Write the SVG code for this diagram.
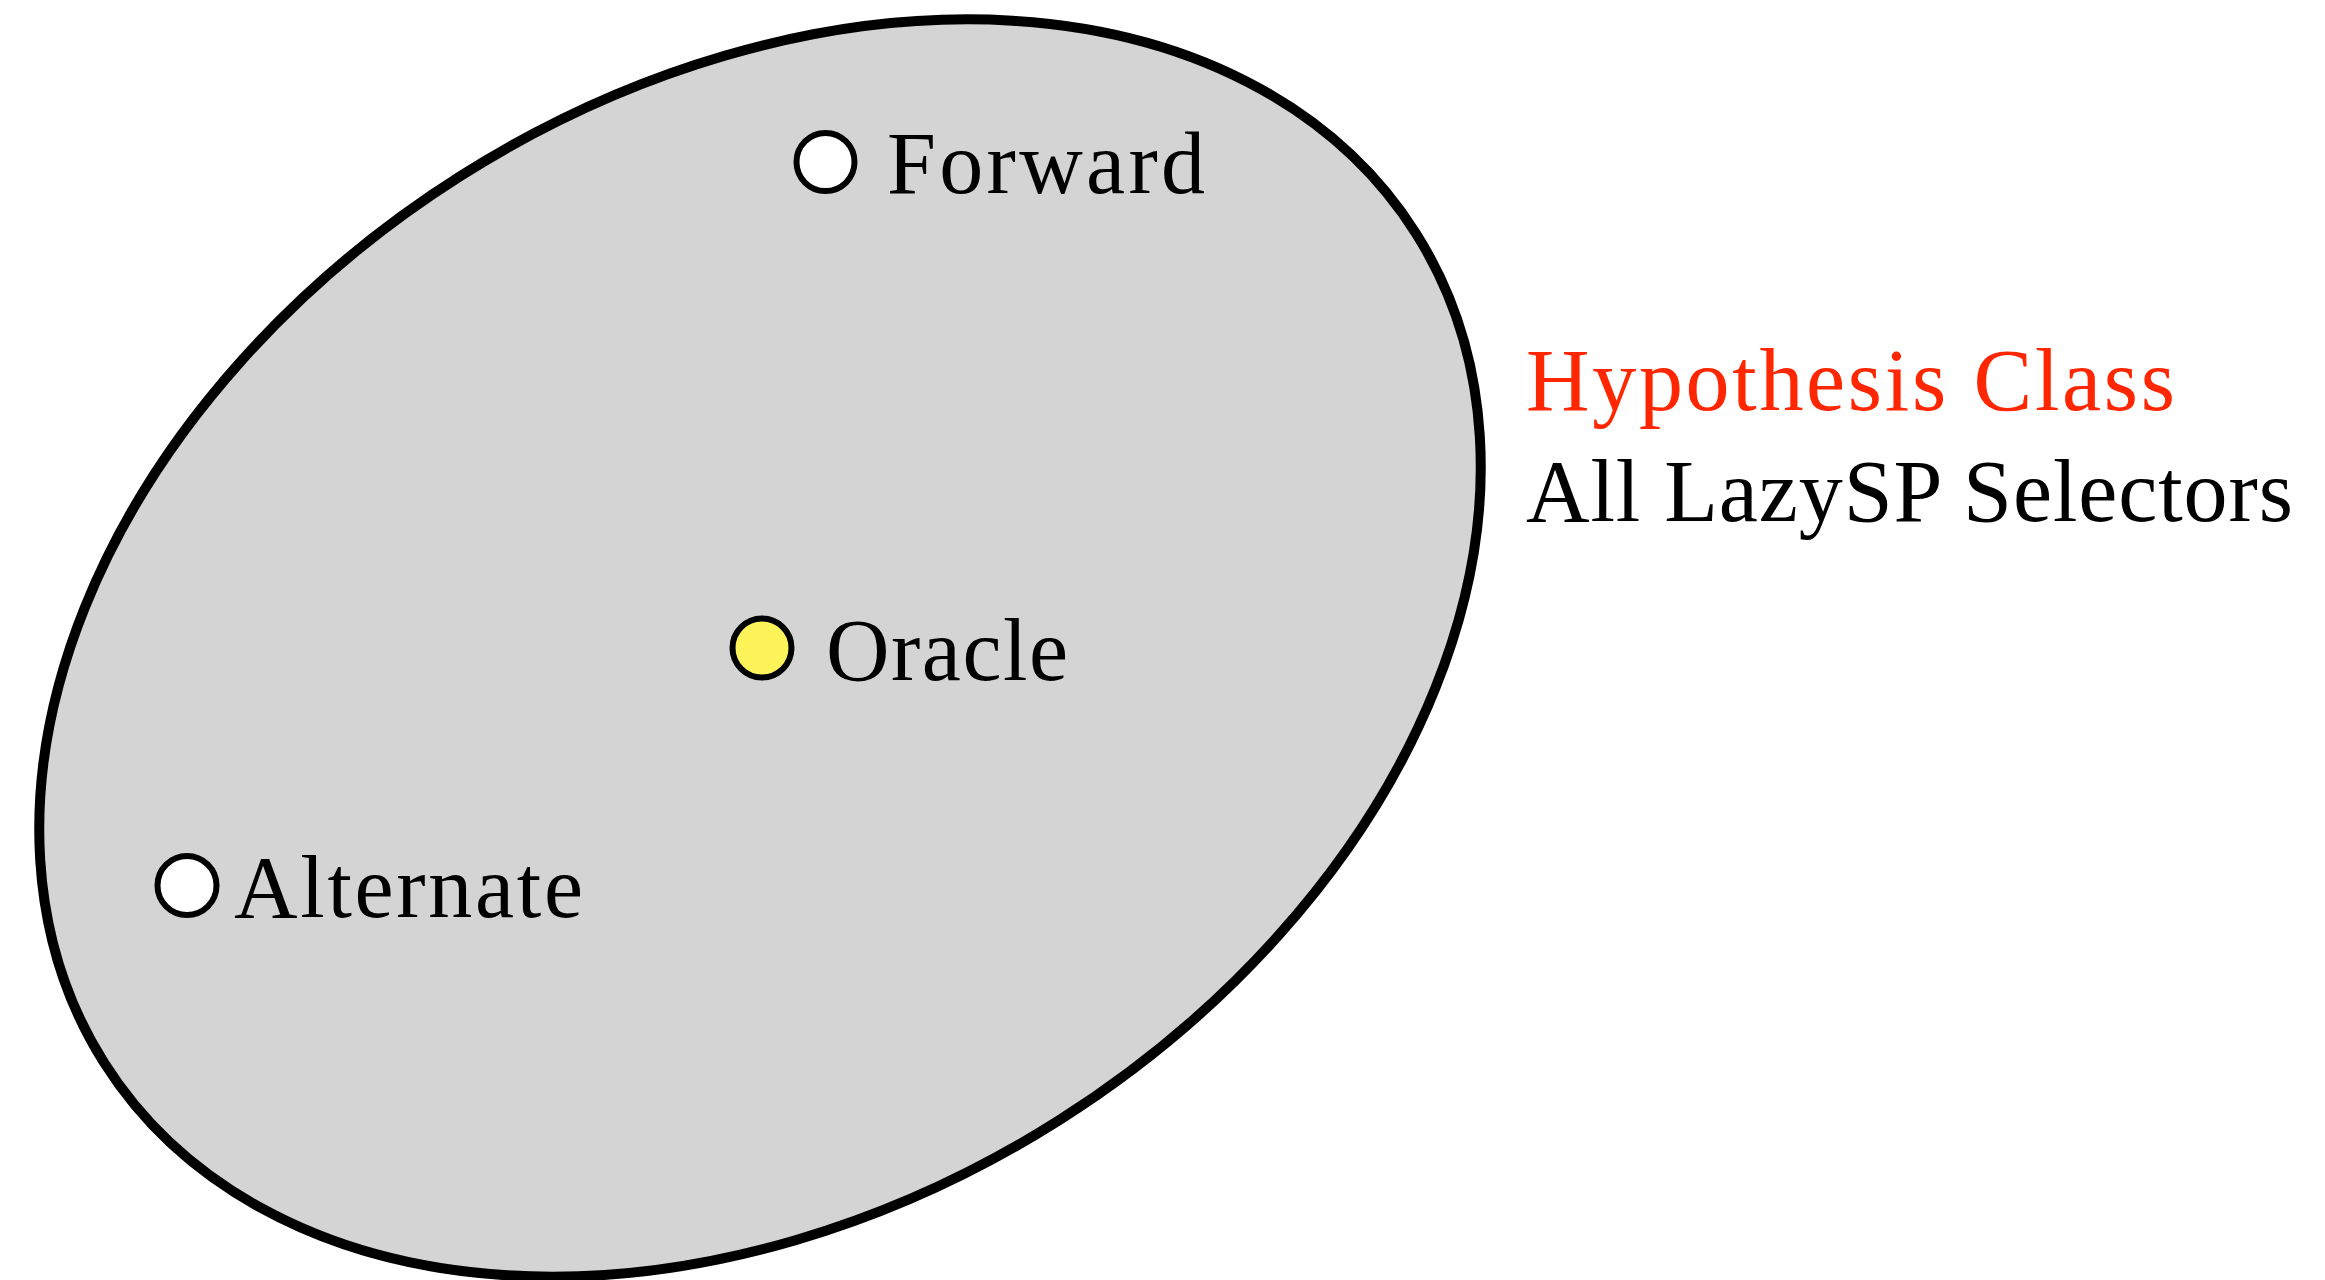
<svg xmlns="http://www.w3.org/2000/svg" width="2325" height="1280" viewBox="0 0 2325 1280">
  <style>
    .lbl { font-family: "Liberation Serif", "DejaVu Serif", serif; font-size: 88px; fill: #000; }
    .red { fill: #ff2600; }
    .pt { stroke: #000; stroke-width: 6; }
  </style>
  <rect width="2325" height="1280" fill="#ffffff"/>
  <g id="hypothesis-class">
    <ellipse cx="760" cy="648" rx="776" ry="559" transform="rotate(-32.3 760 648)" fill="#d4d4d4" stroke="#000" stroke-width="10"/>
    <text class="lbl red" x="1526" y="410" textLength="649">Hypothesis Class</text>
    <text class="lbl" x="1526" y="521" textLength="767">All LazySP Selectors</text>
  </g>
  <g id="connectors"></g>
  <g id="forward">
    <circle class="pt" cx="825.5" cy="162" r="29" fill="#ffffff"/>
    <text class="lbl" x="887" y="193" textLength="318">Forward</text>
  </g>
  <g id="oracle">
    <circle class="pt" cx="762" cy="648" r="29.5" fill="#fff35a"/>
    <text class="lbl" x="826" y="680" textLength="242">Oracle</text>
  </g>
  <g id="alternate">
    <circle class="pt" cx="187" cy="885.5" r="29.5" fill="#ffffff"/>
    <text class="lbl" x="234" y="917" textLength="349">Alternate</text>
  </g>
</svg>
